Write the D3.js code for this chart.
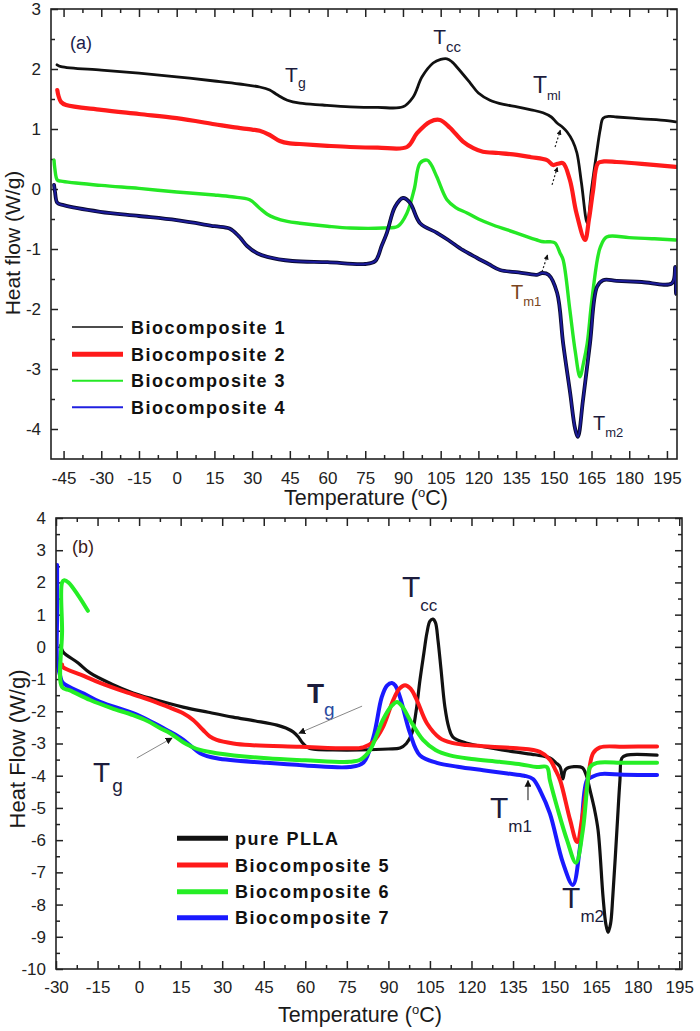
<!DOCTYPE html>
<html><head><meta charset="utf-8">
<script src="https://cdn.jsdelivr.net/npm/d3@7"></script>
<style>
body{margin:0;background:#fff}
svg{display:block;font-family:"Liberation Sans",Arial,sans-serif}
</style></head><body><svg id="c" width="700" height="1031"></svg>
<script>
// ---------- Panel (a) data: [temperature °C, heat flow W/g] ----------
const bio1 = [[-47.6,2.07],[-46,2.04],[-30,1.98],[-15,1.93],[0,1.87],[15,1.8],[25,1.75],[33,1.70],[37,1.65],[40,1.57],[44,1.48],[49,1.43],[58,1.40],[69,1.37],[80,1.36],[90,1.37],[94,1.53],[97.6,1.87],[102,2.1],[105,2.16],[107.5,2.17],[109.5,2.12],[111.5,2.03],[116.7,1.77],[120,1.6],[124.6,1.48],[130,1.41],[135.4,1.37],[141,1.32],[145.7,1.27],[149,1.2],[151.3,1.1],[153.5,1.03],[155.3,0.95],[157.5,0.8],[159.2,0.6],[161,0.1],[163.3,-0.57],[165,0.0],[167.2,0.65],[168.5,1.0],[169.6,1.18],[172,1.21],[175,1.2],[185,1.17],[195,1.14],[198.5,1.12]];
const bio2 = [[-47.5,1.65],[-47,1.55],[-46,1.45],[-44,1.40],[-30,1.32],[-15,1.25],[0,1.18],[15,1.08],[22.4,1.03],[30,0.99],[33,0.97],[37,0.9],[41,0.8],[45,0.76],[49,0.75],[60,0.72],[69,0.70],[80,0.69],[91.6,0.70],[95.6,0.93],[100.7,1.12],[104.7,1.15],[108.7,1.02],[113.9,0.79],[118,0.68],[121.8,0.62],[128,0.6],[135.4,0.57],[141,0.53],[147.3,0.48],[149.7,0.40],[151.5,0.42],[153.7,0.43],[156.4,0.15],[159,-0.4],[162.4,-0.85],[164,-0.5],[165.6,-0.03],[167.6,0.43],[170,0.46],[175,0.45],[185,0.42],[198.5,0.37]];
const bio3 = [[-48.8,0.48],[-48.5,0.35],[-47.5,0.15],[-46,0.13],[-30,0.06],[-15,0.01],[0,-0.05],[15,-0.1],[22,-0.13],[29,-0.18],[33,-0.32],[36,-0.42],[39,-0.48],[44,-0.54],[49,-0.57],[60,-0.62],[69,-0.65],[82,-0.65],[88,-0.62],[91.6,-0.40],[94.5,0.0],[96.8,0.43],[99.6,0.48],[101,0.42],[103.5,0.2],[107.5,-0.18],[111,-0.31],[115.5,-0.40],[120,-0.5],[125.8,-0.6],[135,-0.73],[143.3,-0.85],[146,-0.88],[148.5,-0.88],[150.5,-0.9],[152.5,-1.07],[153.7,-1.18],[156.4,-2.02],[158.5,-2.7],[160.4,-3.13],[161.8,-2.9],[163.3,-2.57],[165,-1.9],[167.3,-1.18],[168.5,-0.97],[171,-0.80],[180,-0.81],[190,-0.83],[198.5,-0.85]];
const bio4 = [[-48.8,0.07],[-48.4,-0.05],[-47.5,-0.23],[-45,-0.27],[-30.5,-0.38],[-15,-0.45],[0,-0.52],[15,-0.62],[21,-0.66],[25,-0.8],[28,-0.95],[32,-1.07],[36,-1.13],[46,-1.2],[60,-1.22],[75,-1.25],[79,-1.2],[81.5,-0.95],[83.6,-0.73],[86.8,-0.3],[90,-0.15],[92.8,-0.23],[96.8,-0.57],[103.5,-0.73],[108,-0.85],[113.9,-1.02],[119.5,-1.15],[124,-1.25],[128.6,-1.35],[136,-1.39],[143.3,-1.43],[145.3,-1.40],[147.9,-1.43],[151.3,-1.73],[153.7,-2.57],[156.5,-3.4],[158.5,-4.0],[159.6,-4.13],[161.6,-3.52],[164.4,-2.57],[167.2,-1.63],[169.6,-1.52],[175,-1.53],[185,-1.55],[197,-1.57],[198.3,-1.3],[198.6,-1.75],[198.9,-1.55]];
const namesA = ["Biocomposite 1","Biocomposite 2","Biocomposite 3","Biocomposite 4"];

// ---------- Panel (b) data ----------
const pla  = [[-28.3,0.05],[-27.5,-0.15],[-22,-0.5],[-17.7,-0.81],[-10,-1.15],[-2.2,-1.43],[5,-1.62],[15.9,-1.87],[25,-2.03],[33.9,-2.18],[42,-2.3],[49.8,-2.43],[53,-2.52],[55.6,-2.64],[57.5,-2.8],[58.8,-2.96],[60.6,-3.11],[63,-3.18],[70,-3.2],[80,-3.2],[90,-3.17],[94.2,-3.14],[96.5,-3.0],[98.5,-2.68],[100,-2.0],[101.4,-1.03],[102.8,-0.2],[103.9,0.43],[105,0.8],[106.1,0.86],[107,0.75],[107.9,0.21],[109,-0.7],[110.4,-1.87],[111.8,-2.5],[113.3,-2.8],[118.4,-2.99],[128,-3.15],[136.4,-3.27],[143,-3.35],[148.3,-3.45],[150.5,-3.6],[152,-3.73],[153,-4.1],[154,-3.8],[157,-3.72],[160,-3.75],[161.5,-4.0],[162.8,-4.45],[164.3,-5.0],[165.7,-5.69],[167.5,-7.77],[168.5,-8.6],[169.3,-8.86],[170.2,-8.6],[171,-7.77],[172.5,-5.69],[173.6,-4.14],[174.3,-3.45],[176,-3.36],[187,-3.36]];
const bio5 = [[-27.8,-0.55],[-27.5,-0.63],[-20,-0.9],[-14.1,-1.12],[-5,-1.4],[4,-1.65],[10,-1.85],[15.9,-2.06],[19.5,-2.27],[23.1,-2.58],[25.5,-2.78],[28,-2.89],[34,-3.0],[40,-3.05],[58,-3.1],[76,-3.15],[80.9,-3.12],[84.5,-2.95],[88,-2.5],[91.7,-1.66],[94,-1.3],[96,-1.19],[98,-1.3],[100.3,-1.66],[103.9,-2.37],[108.6,-2.83],[113,-2.98],[118.4,-3.05],[127,-3.1],[136.4,-3.15],[144.7,-3.26],[148.3,-3.5],[150.2,-3.8],[152,-4.14],[155.6,-5.37],[158.1,-6.06],[160.2,-5.17],[162,-4.14],[163.9,-3.3],[166.4,-3.12],[175,-3.1],[187,-3.09]];
const bio6 = [[-18.5,1.12],[-22,1.6],[-25.5,2.0],[-27,2.07],[-27.8,2.0],[-27.8,0.5],[-27.8,-1.25],[-25,-1.35],[-17.7,-1.65],[-10,-1.9],[-2.2,-2.12],[3,-2.3],[7.5,-2.52],[11.2,-2.68],[15.9,-2.96],[19,-3.1],[22,-3.2],[28,-3.3],[46.2,-3.46],[60,-3.52],[76,-3.57],[80,-3.5],[83.4,-3.2],[88,-2.27],[91,-1.85],[93.1,-1.71],[95,-1.85],[97.8,-2.27],[102.5,-2.89],[107,-3.2],[112.2,-3.37],[120,-3.48],[130.3,-3.57],[138,-3.65],[143.6,-3.73],[147.2,-3.73],[148.3,-4.14],[151,-5.0],[154.5,-6.0],[157.7,-6.7],[160.2,-5.69],[162,-4.14],[162.8,-3.73],[165.3,-3.6],[175,-3.6],[187,-3.6]];
const bio7 = [[-29.6,2.54],[-29.6,1.0],[-29.6,-0.41],[-28.5,-0.9],[-27.5,-1.12],[-20,-1.45],[-14.1,-1.71],[-2.2,-2.06],[5,-2.35],[10,-2.58],[13,-2.72],[16,-2.89],[19,-3.1],[22,-3.3],[28,-3.46],[46,-3.6],[60,-3.68],[76,-3.73],[80.9,-3.6],[84.6,-2.8],[87.6,-1.56],[89.5,-1.2],[91.3,-1.12],[92.5,-1.2],[94.2,-1.56],[97.8,-2.68],[101.4,-3.37],[107.5,-3.6],[115,-3.72],[124.2,-3.83],[133,-3.93],[139,-4.0],[142.2,-4.1],[145,-4.5],[148.3,-5.17],[153,-6.7],[156.6,-7.39],[159.2,-6.2],[161.7,-4.14],[163.5,-4.04],[166.4,-3.95],[175,-3.97],[187,-3.98]];
const namesB = ["pure PLLA","Biocomposite 5","Biocomposite 6","Biocomposite 7"];

// tick values
const xTicksA = d3.range(-45, 196, 15);
const yTicksA = d3.range(-4, 3.01, 1);
const xTicksB = d3.range(-30, 196, 15);
const yTicksB = d3.range(-10, 4.01, 1);

const svg = d3.select("#c");
const defs = svg.append("defs");
defs.append("marker").attr("id","ah").attr("viewBox","0 0 10 10").attr("refX",9).attr("refY",5)
  .attr("markerWidth",7).attr("markerHeight",7).attr("markerUnits","userSpaceOnUse").attr("orient","auto")
  .append("path").attr("d","M0,0L10,5L0,10z").attr("fill","#111");
defs.append("marker").attr("id","ahs").attr("viewBox","0 0 10 10").attr("refX",9).attr("refY",5)
  .attr("markerWidth",5).attr("markerHeight",5).attr("markerUnits","userSpaceOnUse").attr("orient","auto")
  .append("path").attr("d","M0,0L10,5L0,10z").attr("fill","#111");

const ink = "#222";
const tickFont = '"Liberation Sans Narrow","Arial Narrow","Liberation Sans",sans-serif';

function clean(g, fs){
  g.select(".domain").remove();
  g.selectAll(".tick line").attr("stroke", ink).attr("stroke-width", 1.5);
  g.selectAll(".tick text").attr("fill", ink).attr("font-size", fs).attr("font-family", tickFont);
}

function panel(id, x, y, xT, yT, padX, series, styles){
  const g = svg.append("g");
  const [x0,x1] = x.range(), [y0,y1] = y.range();
  const fmt = d => String(d);
  const xMin = xT.map(d => d + 7.5).filter(d => d < x.domain()[1]);
  const yMin = yT.map(d => d + 0.5).filter(d => d < y.domain()[1]);
  // bottom
  g.append("g").attr("transform",`translate(0,${y0})`)
    .call(d3.axisBottom(x).tickValues(xT).tickSize(-8).tickPadding(padX).tickFormat(fmt)).call(s=>clean(s,17));
  g.append("g").attr("transform",`translate(0,${y0})`)
    .call(d3.axisBottom(x).tickValues(xMin).tickSize(-4).tickFormat("")).call(s=>clean(s,17));
  // top
  g.append("g").attr("transform",`translate(0,${y1})`)
    .call(d3.axisTop(x).tickValues(xT).tickSize(-8).tickFormat("")).call(s=>clean(s,17));
  g.append("g").attr("transform",`translate(0,${y1})`)
    .call(d3.axisTop(x).tickValues(xMin).tickSize(-4).tickFormat("")).call(s=>clean(s,17));
  // left
  g.append("g").attr("transform",`translate(${x0},0)`)
    .call(d3.axisLeft(y).tickValues(yT).tickSize(-7).tickPadding(10).tickFormat(fmt)).call(s=>clean(s,17));
  g.append("g").attr("transform",`translate(${x0},0)`)
    .call(d3.axisLeft(y).tickValues(yMin).tickSize(-4).tickFormat("")).call(s=>clean(s,17));
  // right
  g.append("g").attr("transform",`translate(${x1},0)`)
    .call(d3.axisRight(y).tickValues(yT).tickSize(-7).tickFormat("")).call(s=>clean(s,17));
  g.append("g").attr("transform",`translate(${x1},0)`)
    .call(d3.axisRight(y).tickValues(yMin).tickSize(-4).tickFormat("")).call(s=>clean(s,17));

  defs.append("clipPath").attr("id","clip"+id).append("rect")
    .attr("x",x0).attr("y",y1).attr("width",x1-x0).attr("height",y0-y1);
  const line = d3.line().x(d=>x(d[0])).y(d=>y(d[1])).curve(d3.curveCatmullRom.alpha(0.5));
  const lg = g.append("g").attr("clip-path",`url(#clip${id})`);
  series.forEach((s,i)=>{
    styles[i].forEach(st=>{
      lg.append("path").datum(s).attr("d",line).attr("fill","none")
        .attr("stroke",st[0]).attr("stroke-width",st[1]).attr("stroke-linejoin","round").attr("stroke-linecap","round");
    });
  });
  g.append("rect").attr("x",x0).attr("y",y1).attr("width",x1-x0).attr("height",y0-y1)
    .attr("fill","none").attr("stroke",ink).attr("stroke-width",1.6);
  return g;
}

function label(g, x, y, t, v, main, sub, fs, sfs, opts={}){
  const tx = g.append("text").attr("x",x(t)).attr("y",y(v)).attr("font-size",fs)
    .attr("fill",opts.color||"#1c1c3c").attr("font-weight",opts.bold?"bold":"normal");
  tx.append("tspan").text(main);
  if (sub) tx.append("tspan").attr("dy",opts.dy||sfs*0.55).attr("dx",opts.dx||0).attr("font-size",sfs)
    .attr("font-weight","normal").attr("fill",opts.subColor||opts.color||"#1c1c3c").text(sub);
}
function arrow(g, x, y, a, b, opts){
  g.append("line").attr("x1",x(a[0])).attr("y1",y(a[1])).attr("x2",x(b[0])).attr("y2",y(b[1]))
    .attr("stroke",opts.color).attr("stroke-width",opts.w).attr("stroke-dasharray",opts.dash||null)
    .attr("marker-end",`url(#${opts.marker})`);
}

// ======== Panel (a) ========
const ax = d3.scaleLinear().domain([-50,199]).range([51,677]);
const ay = d3.scaleLinear().domain([-4.5,3]).range([459,9]);
const ga = panel("a", ax, ay, xTicksA, yTicksA, 12.5, [bio1,bio2,bio3,bio4],
  [[["#111",2.8]],[["#ff1a1a",4.2]],[["#25e825",3.4]],[["#0a0a30",3.8],["#1b1b9a",2]]]);

label(ga, ax, ay, -42.4, 2.33, "(a)", null, 18, 0, {color:"#1c1c4a"});
label(ga, ax, ay, 43.1, 1.78, "T", "g", 21, 14, {dy:6});
label(ga, ax, ay, 102, 2.42, "T", "cc", 21, 15, {dy:8});
label(ga, ax, ay, 141.7, 1.6, "T", "ml", 23, 13, {dy:7});
label(ga, ax, ay, 133, -1.83, "T", "m1", 20, 13, {dy:7, color:"#7a4520"});
label(ga, ax, ay, 165.6, -4.02, "T", "m2", 20, 13, {dy:7});
arrow(ga, ax, ay, [150.5,0.70],[152.6,0.98], {color:"#222", w:1.2, dash:"2,2", marker:"ahs"});
arrow(ga, ax, ay, [149.3,0.07],[151.4,0.36], {color:"#222", w:1.2, dash:"2,2", marker:"ahs"});
arrow(ga, ax, ay, [145.3,-1.38],[147.5,-1.1], {color:"#222", w:1.2, dash:"2,2", marker:"ahs"});

// axis titles (a)
svg.append("text").attr("x",366).attr("y",505).attr("text-anchor","middle").attr("font-size",21.5).attr("fill","#1a1a1a")
  .call(t=>{t.append("tspan").text("Temperature (");t.append("tspan").attr("dy",-8).attr("font-size",13).text("o");
  t.append("tspan").attr("dy",8).text("C)");});
svg.append("text").attr("transform","translate(20,243) rotate(-90)").attr("text-anchor","middle")
  .attr("font-size",21).attr("fill","#1a1a1a").text("Heat flow (W/g)");

// legend (a)
const legA = [["#111",1.6],["#ff1a1a",5],["#25e825",2],["#2020e0",2]];
const legAy = [327,354.3,380.7,407.3];
namesA.forEach((n,i)=>{
  svg.append("line").attr("x1",72).attr("x2",123).attr("y1",legAy[i]).attr("y2",legAy[i])
    .attr("stroke",legA[i][0]).attr("stroke-width",legA[i][1]);
  svg.append("text").attr("x",131).attr("y",legAy[i]+6.5).attr("font-size",18).attr("font-weight","bold")
    .attr("letter-spacing",1.5).attr("fill","#111").text(n);
});

// ======== Panel (b) ========
const bx = d3.scaleLinear().domain([-30,196]).range([56,682]);
const by = d3.scaleLinear().domain([-10,4]).range([969,518]);
const gb = panel("b", bx, by, xTicksB, yTicksB, 11.5, [pla,bio7,bio5,bio6],
  [[["#111",3.2]],[["#1a1aff",4]],[["#ff1a1a",4]],[["#25ee25",4]]]);

label(gb, bx, by, -24.2, 2.91, "(b)", null, 18, 0, {color:"#3a1a1a"});
label(gb, bx, by, 94.9, 1.55, "T", "cc", 30, 17, {dy:14});
label(gb, bx, by, 60.6, -1.75, "T", "g", 28, 19, {bold:true, dy:13, subColor:"#2a4aa0"});
label(gb, bx, by, -16.6, -4.2, "T", "g", 28, 19, {dy:10, dx:2});
label(gb, bx, by, 126.7, -5.32, "T", "m1", 30, 17, {dy:14});
label(gb, bx, by, 152.7, -8.11, "T", "m2", 30, 17, {dy:14});
arrow(gb, bx, by, [80.5,-1.84],[57.7,-2.68], {color:"#888", w:1, marker:"ah"});
arrow(gb, bx, by, [-0.8,-3.45],[11.9,-2.83], {color:"#888", w:1, marker:"ah"});
arrow(gb, bx, by, [140.4,-4.76],[140.4,-4.15], {color:"#111", w:1, marker:"ah"});

svg.append("text").attr("x",360).attr("y",1022).attr("text-anchor","middle").attr("font-size",21.5).attr("fill","#1a1a1a")
  .call(t=>{t.append("tspan").text("Temperature (");t.append("tspan").attr("dy",-8).attr("font-size",13).text("o");
  t.append("tspan").attr("dy",8).text("C)");});
svg.append("text").attr("transform","translate(25,749) rotate(-90)").attr("text-anchor","middle")
  .attr("font-size",22).attr("fill","#1a1a1a").text("Heat Flow (W/g)");

const legB = ["#111","#ff1a1a","#25ee25","#1a1aff"];
const legBy = [838.3,865,891.7,917.7];
namesB.forEach((n,i)=>{
  svg.append("line").attr("x1",177).attr("x2",228).attr("y1",legBy[i]).attr("y2",legBy[i])
    .attr("stroke",legB[i]).attr("stroke-width",5);
  svg.append("text").attr("x",235).attr("y",legBy[i]+6.5).attr("font-size",18).attr("font-weight","bold")
    .attr("letter-spacing",1.5).attr("fill","#111").text(n);
});
</script></body></html>
